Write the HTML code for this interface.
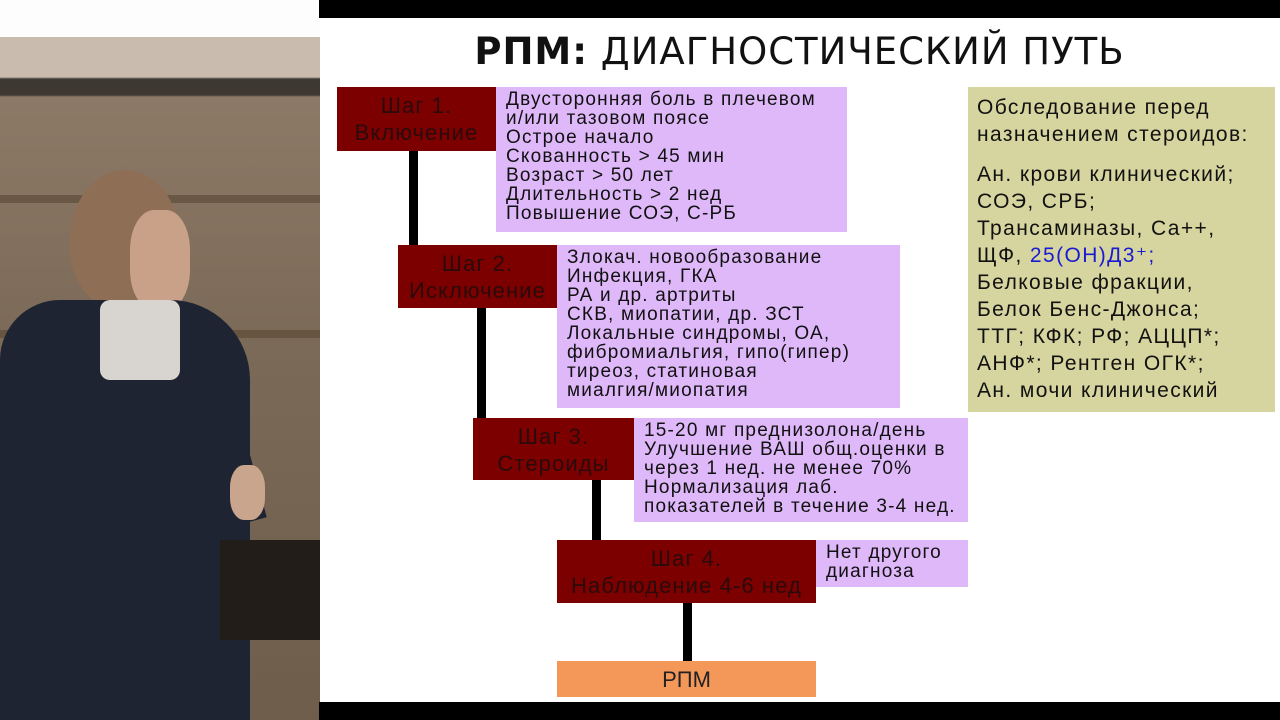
<!DOCTYPE html>
<html><head><meta charset="utf-8"><style>
body{margin:0;width:1280px;height:720px;position:relative;overflow:hidden;background:#fff;font-family:"Liberation Sans",sans-serif}
.a{position:absolute}
.r{position:absolute;background:#7c0000;color:#2a0a0a;text-align:center;font-size:22px;line-height:27px;box-sizing:border-box;padding-top:5px;white-space:nowrap;letter-spacing:1.1px}
.p{position:absolute;background:#deb8f8;color:#111;font-size:19px;line-height:19px;padding:3px 0 0 10px;box-sizing:border-box;white-space:nowrap;letter-spacing:1.2px}
.l{position:absolute;background:#000;width:9px}
</style></head><body>
<div class="a" style="left:0;top:0;width:320px;height:720px;background:#fdfdfd"></div>
<div class="a" style="left:0;top:37px;width:320px;height:683px;background:linear-gradient(#c9bcae 0,#c9bcae 40px,#3e3833 42px,#3e3833 58px,#8c7966 60px,#7c6a58 300px,#6e5c4a 720px)"></div>
<div class="a" style="left:0;top:195px;width:320px;height:8px;background:#6a5846"></div>
<div class="a" style="left:0;top:330px;width:320px;height:8px;background:#675542"></div>
<div class="a" style="left:70px;top:170px;width:110px;height:140px;border-radius:50% 50% 45% 45%;background:#8e6e55"></div>
<div class="a" style="left:130px;top:210px;width:60px;height:100px;border-radius:40%;background:#c9a088"></div>
<div class="a" style="left:0;top:300px;width:250px;height:420px;border-radius:60px 80px 0 0;background:#1f2433"></div>
<div class="a" style="left:100px;top:300px;width:80px;height:80px;background:#d8d4d0;border-radius:10px"></div>
<div class="a" style="left:170px;top:390px;width:80px;height:140px;background:#1f2433;transform:rotate(-15deg)"></div>
<div class="a" style="left:230px;top:465px;width:35px;height:55px;background:#c8a58c;border-radius:40%"></div>
<div class="a" style="left:220px;top:540px;width:100px;height:100px;background:#231d1a"></div>
<div class="a" style="left:319px;top:0;width:961px;height:18px;background:#000"></div>
<div class="a" style="left:319px;top:702px;width:961px;height:18px;background:#000"></div>
<div class="a" style="left:319px;top:30px;width:961px;text-align:center;font-family:'DejaVu Sans',sans-serif;font-size:37px;letter-spacing:1px;color:#111;white-space:nowrap"><b>РПМ:</b> ДИАГНОСТИЧЕСКИЙ ПУТЬ</div>
<div class="l" style="left:409px;top:151px;height:94px"></div>
<div class="l" style="left:477px;top:308px;height:110px"></div>
<div class="l" style="left:592px;top:480px;height:60px"></div>
<div class="l" style="left:683px;top:603px;height:58px"></div>
<div class="r" style="left:337px;top:87px;width:159px;height:64px">Шаг 1.<br>Включение</div>
<div class="p" style="left:496px;top:87px;width:351px;height:145px">Двусторонняя боль в плечевом<br>и/или тазовом поясе<br>Острое начало<br>Скованность &gt; 45 мин<br>Возраст &gt; 50 лет<br>Длительность &gt; 2 нед<br>Повышение СОЭ, С-РБ</div>
<div class="r" style="left:398px;top:245px;width:159px;height:63px">Шаг 2.<br>Исключение</div>
<div class="p" style="left:557px;top:245px;width:343px;height:163px">Злокач. новообразование<br>Инфекция, ГКА<br>РА и др. артриты<br>СКВ, миопатии, др. ЗСТ<br>Локальные синдромы, ОА,<br>фибромиальгия, гипо(гипер)<br>тиреоз, статиновая<br>миалгия/миопатия</div>
<div class="r" style="left:473px;top:418px;width:161px;height:62px">Шаг 3.<br>Стероиды</div>
<div class="p" style="left:634px;top:418px;width:334px;height:104px">15-20 мг преднизолона/день<br>Улучшение ВАШ общ.оценки в<br>через 1 нед. не менее 70%<br>Нормализация лаб.<br>показателей в течение 3-4 нед.</div>
<div class="r" style="left:557px;top:540px;width:259px;height:63px">Шаг 4.<br>Наблюдение 4-6 нед</div>
<div class="p" style="left:816px;top:540px;width:152px;height:47px">Нет другого<br>диагноза</div>
<div class="a" style="left:557px;top:661px;width:259px;height:36px;background:#f4985a;text-align:center;font-size:22px;line-height:38px;color:#222">РПМ</div>
<div class="a" style="left:968px;top:87px;width:307px;height:325px;background:#d6d59f;box-sizing:border-box;padding:7px 0 0 9px;font-size:21px;letter-spacing:1.4px;line-height:27px;color:#111;white-space:nowrap;overflow:hidden">Обследование перед<br>назначением стероидов:<div style="height:13px"></div>Ан. крови клинический;<br>СОЭ, СРБ;<br>Трансаминазы, Са++,<br>ЩФ, <span style="color:#1a1ad0">25(OH)Д3⁺;</span><br>Белковые фракции,<br>Белок Бенс-Джонса;<br>ТТГ; КФК; РФ; АЦЦП*;<br>АНФ*; Рентген ОГК*;<br>Ан. мочи клинический</div>
</body></html>
